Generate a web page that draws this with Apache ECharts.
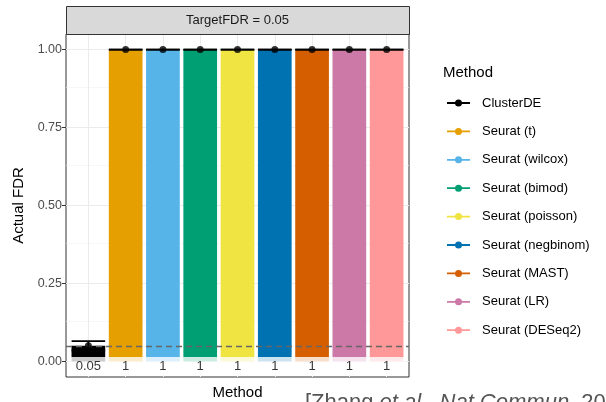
<!DOCTYPE html>
<html>
<head>
<meta charset="utf-8">
<script src="https://cdn.jsdelivr.net/npm/echarts@6/dist/echarts.min.js"></script>
<style>html,body{margin:0;padding:0;background:#fff}#c{width:606px;height:402px}</style>
</head>
<body>
<div id="c"></div>
<script>
const methods = ['ClusterDE','Seurat (t)','Seurat (wilcox)','Seurat (bimod)','Seurat (poisson)','Seurat (negbinom)','Seurat (MAST)','Seurat (LR)','Seurat (DESeq2)'];
const actualFDR = [0.05, 1, 1, 1, 1, 1, 1, 1, 1];
const errLower = [0.035, 1, 1, 1, 1, 1, 1, 1, 1];
const errUpper = [0.065, 1, 1, 1, 1, 1, 1, 1, 1];
const valueLabels = ['0.05','1','1','1','1','1','1','1','1'];
const colors = ['#000000','#E69F00','#56B4E9','#009E73','#F0E442','#0072B2','#D55E00','#CC79A7','#FF9999'];
const yTicks = [0, 0.25, 0.5, 0.75, 1];
const yMinor = [0.125, 0.375, 0.625, 0.875];
const targetFDR = 0.05;

const FONT = 'Liberation Sans, Arial, sans-serif';
const xPos = methods.map((m, i) => i + 1);
const labelY = -0.016;

const chart = echarts.init(document.getElementById('c'), null, {renderer: 'canvas'});

const series = [];
// grid lines (below bars)
series.push({
  type: 'scatter', silent: true, z: 1, symbolSize: 0, data: [[1, 0]],
  markLine: {
    silent: true, symbol: 'none', label: {show: false}, animation: false, z: 1,
    data: [
      ...yTicks.map(v => ({yAxis: v, lineStyle: {color: '#EBEBEB', width: 1.1, type: 'solid'}})),
      ...yMinor.map(v => ({yAxis: v, lineStyle: {color: '#F2F2F2', width: 0.6, type: 'solid'}})),
      ...xPos.map(v => ({xAxis: v, lineStyle: {color: '#EBEBEB', width: 1.1, type: 'solid'}}))
    ]
  }
});
methods.forEach((m, i) => {
  series.push({
    name: m, type: 'bar', z: 2, barWidth: 33.7, barGap: '-100%',
    itemStyle: {color: colors[i]},
    data: [[xPos[i], actualFDR[i]]]
  });
});
// error bars
series.push({
  type: 'custom', z: 4, silent: true,
  data: methods.map((m, i) => [xPos[i], errLower[i], errUpper[i]]),
  renderItem: function (params, api) {
    const x = api.value(0), lo = api.value(1), hi = api.value(2), h = 0.45;
    const st = {stroke: '#000', lineWidth: 1.8};
    const a = api.coord([x - h, hi]), b = api.coord([x + h, hi]);
    const c = api.coord([x - h, lo]), d = api.coord([x + h, lo]);
    const e = api.coord([x, lo]), f = api.coord([x, hi]);
    return {type: 'group', children: [
      {type: 'line', shape: {x1: a[0], y1: a[1], x2: b[0], y2: b[1]}, style: st},
      {type: 'line', shape: {x1: c[0], y1: c[1], x2: d[0], y2: d[1]}, style: st},
      {type: 'line', shape: {x1: e[0], y1: e[1], x2: f[0], y2: f[1]}, style: st}
    ]};
  }
});
// points + target line
series.push({
  type: 'scatter', z: 5, silent: true, symbolSize: 7,
  itemStyle: {color: '#000'},
  data: methods.map((m, i) => [xPos[i], actualFDR[i]]),
  markLine: {
    silent: true, symbol: 'none', label: {show: false}, animation: false, z: 5,
    lineStyle: {color: '#666666', width: 1.3, type: [6, 4]},
    data: [{yAxis: targetFDR}]
  }
});
// value labels
series.push({
  type: 'scatter', z: 6, silent: true, symbolSize: 0,
  data: methods.map((m, i) => [xPos[i], labelY]),
  label: {
    show: true, position: 'inside',
    formatter: p => valueLabels[p.dataIndex],
    fontFamily: FONT, fontSize: 13, color: '#000',
    backgroundColor: '#fff', padding: [5, 2, 1, 2], width: 34, align: 'center'
  }
});

const iconPath = 'path://M0,2.6L23,2.6L23,4.4L0,4.4Z M11.5,0 A3.5,3.5 0 1 1 11.5,7 A3.5,3.5 0 1 1 11.5,0Z';

chart.setOption({
  animation: false,
  textStyle: {fontFamily: FONT},
  grid: {left: 66, top: 34, width: 343, height: 343, outerBoundsMode: 'none', containLabel: false, show: true, borderColor: '#333', borderWidth: 1, backgroundColor: 'transparent'},
  xAxis: {
    type: 'value', min: 0.4, max: 9.6,
    axisLine: {show: false},
    axisTick: {show: true, customValues: xPos, length: 5, lineStyle: {color: '#333'}},
    axisLabel: {show: false},
    splitLine: {show: false},
    name: 'Method', nameLocation: 'middle', nameGap: 8,
    nameTextStyle: {fontFamily: FONT, fontSize: 15, color: '#000'}
  },
  yAxis: {
    type: 'value', min: -0.05, max: 1.05,
    axisLine: {show: false},
    axisTick: {show: true, customValues: yTicks, length: 4, lineStyle: {color: '#333'}},
    axisLabel: {show: true, customValues: yTicks, formatter: v => v.toFixed(2), fontFamily: FONT, fontSize: 12.5, color: '#4D4D4D', margin: 4},
    splitLine: {show: false},
    name: 'Actual FDR', nameLocation: 'middle', nameGap: 39, nameRotate: 90,
    nameTextStyle: {fontFamily: FONT, fontSize: 15, color: '#000'}
  },
  legend: {
    orient: 'vertical', left: 447, top: 96, padding: 0,
    data: methods.map(m => ({name: m, icon: iconPath})),
    itemWidth: 23, itemHeight: 7, itemGap: 14.4,
    textStyle: {fontFamily: FONT, fontSize: 13, color: '#000', lineHeight: 14, padding: [0, 0, 0, 7]},
    selectedMode: false
  },
  graphic: [
    {type: 'rect', left: 66, top: 6, shape: {width: 343, height: 28}, style: {fill: '#D9D9D9', stroke: '#333', lineWidth: 1}, z: 10},
    {type: 'text', x: 237.5, y: 20, style: {text: 'TargetFDR = 0.05', font: '13px ' + FONT, fill: '#1A1A1A', textAlign: 'center', textVerticalAlign: 'middle'}, z: 11},
    {type: 'text', x: 443, y: 73, style: {text: 'Method', font: '15px ' + FONT, fill: '#000', textAlign: 'left', textVerticalAlign: 'middle'}, z: 11},
    {type: 'text', x: 305, y: 392, style: {
      text: '[Zhang {i|et al.}, {i|Nat Commun}, 2024]',
      font: '22px ' + FONT, fill: '#555', textAlign: 'left', textVerticalAlign: 'top',
      rich: {i: {fontStyle: 'italic', fontSize: 22, fontFamily: FONT, fill: '#555'}}
    }, z: 11}
  ],
  series: series
});
</script>
</body>
</html>
